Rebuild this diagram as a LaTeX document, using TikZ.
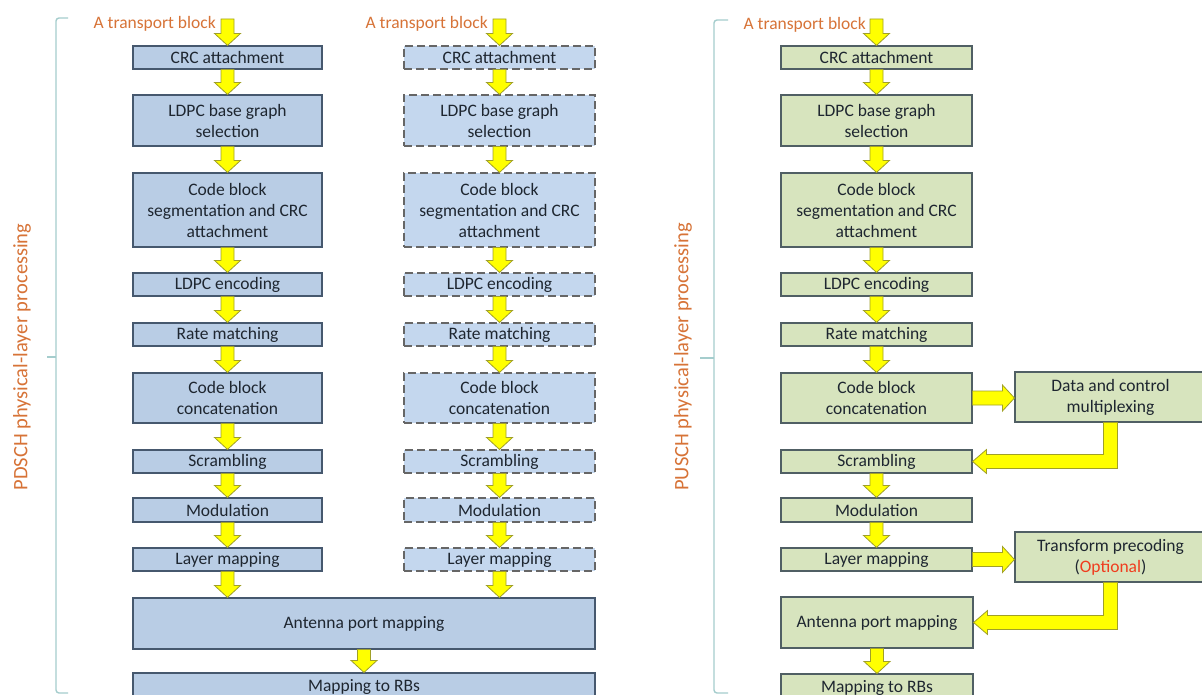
\documentclass[tikz,border=0pt]{standalone}
\usepackage{fontspec}
\setmainfont{Carlito}
\usetikzlibrary{calc}
\definecolor{bfill}{RGB}{185,205,229}
\definecolor{dfill}{RGB}{196,215,238}
\definecolor{gfill}{RGB}{215,228,190}
\definecolor{edge}{RGB}{70,88,110}
\definecolor{gedge}{RGB}{80,95,100}
\definecolor{orangetxt}{RGB}{215,115,55}
\definecolor{brack}{RGB}{165,205,205}
\definecolor{yfill}{RGB}{255,255,0}
\definecolor{yedge}{RGB}{160,160,40}
\definecolor{optred}{RGB}{240,60,30}
\definecolor{txt}{RGB}{30,38,48}
\tikzset{
  bx/.style={rectangle, draw=edge, line width=1.1pt, fill=bfill, inner sep=0pt, align=center,
    text=txt, font=\fontsize{17.5}{21}\selectfont},
  dbx/.style={bx, fill=dfill, draw=gray!80!black, dash pattern=on 8pt off 4pt},
  gbx/.style={bx, fill=gfill, draw=gedge},
  lbl/.style={text=orangetxt, font=\fontsize{17.5}{21}\selectfont, inner sep=0pt},
  vlbl/.style={lbl, rotate=90, font=\fontsize{20.5}{24}\selectfont},
  yarrow/.style={fill=yfill, draw=yedge, line width=0.8pt, line join=miter},
  brk/.style={draw=brack, line width=1.4pt, rounded corners=3pt}
}
\newcommand\vArrow[2]{\filldraw[yarrow] let \p1=#1, \p2=#2 in
  (\x1-6.5pt,\y1) -- (\x1+6.5pt,\y1) -- (\x1+6.5pt,\y2+12pt) -- (\x1+13pt,\y2+12pt)
  -- (\x1,\y2) -- (\x1-13pt,\y2+12pt) -- (\x1-6.5pt,\y2+12pt) -- cycle;}
\newcommand\hArrow[2]{\filldraw[yarrow] let \p1=#1, \p2=#2 in
  (\x1,\y1+7pt) -- (\x2-12pt,\y1+7pt) -- (\x2-12pt,\y1+13pt) -- (\x2,\y1)
  -- (\x2-12pt,\y1-13pt) -- (\x2-12pt,\y1-7pt) -- (\x1,\y1-7pt) -- cycle;}
\newcommand\lArrow[2]{\filldraw[yarrow] let \p1=#1, \p2=#2 in
  (\x1-7pt,\y1) -- (\x1+7pt,\y1) -- (\x1+7pt,\y2-7pt) -- (\x2+14pt,\y2-7pt)
  -- (\x2+14pt,\y2-12pt) -- (\x2,\y2) -- (\x2+14pt,\y2+12pt) -- (\x2+14pt,\y2+7pt)
  -- (\x1-7pt,\y2+7pt) -- cycle;}
\begin{document}
\begin{tikzpicture}[x=1pt,y=-1pt]
\useasboundingbox[fill=white] (0,0) rectangle (1202,695);

% brackets
\draw[brk] (68,18) -- (56,18) -- (56,693) -- (68,693);
\draw[brk] (47,357) -- (56,357);
\draw[brk] (728,20) -- (714,20) -- (714,693) -- (728,693);
\draw[brk] (700,358) -- (714,358);
\node[vlbl] (pdschlbl) at (22,357) {PDSCH physical-layer processing};
\node[vlbl] (puschlbl) at (683,357) {PUSCH physical-layer processing};

% column 1
\node[lbl, anchor=east] (tb1) at (216,24) {A transport block};
\coordinate (tb1a) at (227.5,19);
\node[bx, minimum width=189, minimum height=23] (crc1) at (227.5,57.5) {CRC attachment};
\node[bx, minimum width=189, minimum height=51] (ldpc1) at (227.5,120.5) {LDPC base graph\\selection};
\node[bx, minimum width=189, minimum height=74] (seg1) at (227.5,210) {Code block\\segmentation and CRC\\attachment};
\node[bx, minimum width=189, minimum height=23] (enc1) at (227.5,284.5) {LDPC encoding};
\node[bx, minimum width=189, minimum height=23] (rm1) at (227.5,334.5) {Rate matching};
\node[bx, minimum width=189, minimum height=50] (cat1) at (227.5,398) {Code block\\concatenation};
\node[bx, minimum width=189, minimum height=23] (scr1) at (227.5,461.5) {Scrambling};
\node[bx, minimum width=189, minimum height=24] (mod1) at (227.5,510) {Modulation};
\node[bx, minimum width=189, minimum height=23] (lay1) at (227.5,559.5) {Layer mapping};

% column 2
\node[lbl, anchor=east] (tb2) at (488,24) {A transport block};
\coordinate (tb2a) at (499.5,19);
\node[dbx, minimum width=191, minimum height=23] (crc2) at (499.5,57.5) {CRC attachment};
\node[dbx, minimum width=191, minimum height=51] (ldpc2) at (499.5,120.5) {LDPC base graph\\selection};
\node[dbx, minimum width=191, minimum height=74] (seg2) at (499.5,210) {Code block\\segmentation and CRC\\attachment};
\node[dbx, minimum width=191, minimum height=23] (enc2) at (499.5,284.5) {LDPC encoding};
\node[dbx, minimum width=191, minimum height=23] (rm2) at (499.5,334.5) {Rate matching};
\node[dbx, minimum width=191, minimum height=50] (cat2) at (499.5,398) {Code block\\concatenation};
\node[dbx, minimum width=191, minimum height=23] (scr2) at (499.5,461.5) {Scrambling};
\node[dbx, minimum width=191, minimum height=24] (mod2) at (499.5,510) {Modulation};
\node[dbx, minimum width=191, minimum height=23] (lay2) at (499.5,559.5) {Layer mapping};

\node[bx, minimum width=462, minimum height=51] (ant1) at (364,623.5) {Antenna port mapping};
\node[bx, minimum width=462, minimum height=27] (rbs1) at (364,686.5) {Mapping to RBs};

% column 3
\node[lbl, anchor=east] (tb3) at (866,25) {A transport block};
\coordinate (tb3a) at (876.5,19);
\node[gbx, minimum width=191, minimum height=23] (crc3) at (876.5,57.5) {CRC attachment};
\node[gbx, minimum width=191, minimum height=51] (ldpc3) at (876.5,120.5) {LDPC base graph\\selection};
\node[gbx, minimum width=191, minimum height=74] (seg3) at (876.5,210) {Code block\\segmentation and CRC\\attachment};
\node[gbx, minimum width=191, minimum height=23] (enc3) at (876.5,284.5) {LDPC encoding};
\node[gbx, minimum width=191, minimum height=23] (rm3) at (876.5,334.5) {Rate matching};
\node[gbx, minimum width=191, minimum height=50] (cat3) at (876.5,398) {Code block\\concatenation};
\node[gbx, minimum width=191, minimum height=23] (scr3) at (876.5,461.5) {Scrambling};
\node[gbx, minimum width=191, minimum height=24] (mod3) at (876.5,510) {Modulation};
\node[gbx, minimum width=191, minimum height=23] (lay3) at (876.5,559.5) {Layer mapping};
\node[gbx, minimum width=192, minimum height=51] (ant3) at (877,622.5) {Antenna port mapping};
\node[gbx, minimum width=192, minimum height=27] (rbs3) at (877,687.5) {Mapping to RBs};
\node[gbx, minimum width=191, minimum height=50] (mux) at (1110.5,397) {Data and control\\multiplexing};
\node[gbx, minimum width=191, minimum height=50] (tp) at (1110.5,557) {Transform precoding\\({\color{optred}Optional})};

% arrows column 1
\vArrow{(tb1a)}{(crc1.north)}
\vArrow{(crc1.south)}{(ldpc1.north)}
\vArrow{(ldpc1.south)}{(seg1.north)}
\vArrow{(seg1.south)}{(enc1.north)}
\vArrow{(enc1.south)}{(rm1.north)}
\vArrow{(rm1.south)}{(cat1.north)}
\vArrow{(cat1.south)}{(scr1.north)}
\vArrow{(scr1.south)}{(mod1.north)}
\vArrow{(mod1.south)}{(lay1.north)}
\vArrow{(lay1.south)}{(ant1.north)}
% arrows column 2
\vArrow{(tb2a)}{(crc2.north)}
\vArrow{(crc2.south)}{(ldpc2.north)}
\vArrow{(ldpc2.south)}{(seg2.north)}
\vArrow{(seg2.south)}{(enc2.north)}
\vArrow{(enc2.south)}{(rm2.north)}
\vArrow{(rm2.south)}{(cat2.north)}
\vArrow{(cat2.south)}{(scr2.north)}
\vArrow{(scr2.south)}{(mod2.north)}
\vArrow{(mod2.south)}{(lay2.north)}
\vArrow{(lay2.south)}{(ant1.north)}
\vArrow{(ant1.south)}{(rbs1.north)}
% arrows column 3
\vArrow{(tb3a)}{(crc3.north)}
\vArrow{(crc3.south)}{(ldpc3.north)}
\vArrow{(ldpc3.south)}{(seg3.north)}
\vArrow{(seg3.south)}{(enc3.north)}
\vArrow{(enc3.south)}{(rm3.north)}
\vArrow{(rm3.south)}{(cat3.north)}
\vArrow{(scr3.south)}{(mod3.north)}
\vArrow{(mod3.south)}{(lay3.north)}
\vArrow{(ant3.south)}{(rbs3.north)}
\hArrow{(cat3.east)}{(mux.west)}
\hArrow{(lay3.east)}{(tp.west)}
\lArrow{(mux.south)}{(scr3.east)}
\lArrow{(tp.south)}{(ant3.east)}
\end{tikzpicture}
\end{document}
